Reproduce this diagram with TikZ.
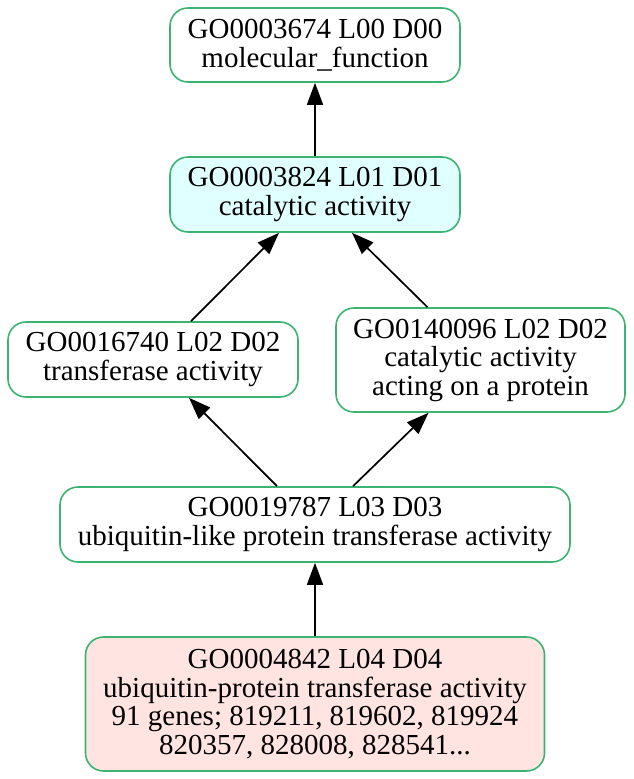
\documentclass[tikz,border=0pt]{standalone}
\usepackage{fontspec}
\setmainfont{Liberation Serif}
\usetikzlibrary{arrows.meta}
\definecolor{gobord}{HTML}{3CB371}
\definecolor{gocyan}{HTML}{E0FFFF}
\definecolor{gorose}{HTML}{FFE4E1}
\begin{document}
\begin{tikzpicture}[x=1pt,y=1pt,
  gonode/.style={draw=gobord, line width=1.6pt, rounded corners=18pt, fill=white,
    align=center, inner sep=0pt, font=\fontsize{29}{28.5}\selectfont},
  goedge/.style={draw=black, line width=1.7pt, -{Triangle[length=22pt,width=16pt]}}]
\useasboundingbox (0,0) rectangle (633,-779);
\node[gonode, minimum width=290pt, minimum height=74pt] (n1) at (315,-45)
  {GO0003674 L00 D00\\molecular\_function};
\node[gonode, fill=gocyan, minimum width=290pt, minimum height=75pt] (n2) at (315,-194.5)
  {GO0003824 L01 D01\\catalytic activity};
\node[gonode, minimum width=290pt, minimum height=75pt] (n3) at (153,-359.5)
  {GO0016740 L02 D02\\transferase activity};
\node[gonode, minimum width=289pt, minimum height=104pt] (n4) at (480.5,-360)
  {GO0140096 L02 D02\\catalytic activity\\ acting on a protein};
\node[gonode, minimum width=510pt, minimum height=75pt] (n5) at (315,-524.5)
  {GO0019787 L03 D03\\ubiquitin-like protein transferase activity};
\node[gonode, fill=gorose, minimum width=459pt, minimum height=134pt] (n6) at (315,-704)
  {GO0004842 L04 D04\\ubiquitin-protein transferase activity\\91 genes; 819211, 819602, 819924\\820357, 828008, 828541...};
\draw[goedge] (n2.north) -- (n1.south);
\draw[goedge] ([xshift=38pt]n3.north) -- ([xshift=-36pt]n2.south);
\draw[goedge] ([xshift=-53pt]n4.north) -- ([xshift=37pt]n2.south);
\draw[goedge] ([xshift=-38pt]n5.north) -- ([xshift=36pt]n3.south);
\draw[goedge] ([xshift=38pt]n5.north) -- ([xshift=-52pt]n4.south);
\draw[goedge] (n6.north) -- (n5.south);
\end{tikzpicture}
\end{document}
